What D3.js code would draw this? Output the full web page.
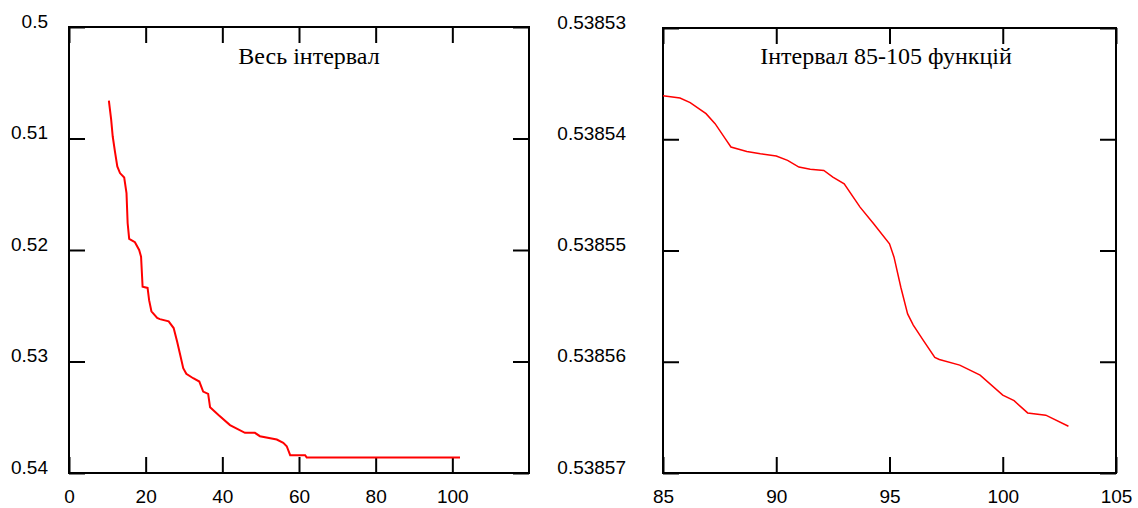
<!DOCTYPE html>
<html>
<head>
<meta charset="utf-8">
<script src="https://cdn.jsdelivr.net/npm/d3@7"></script>
<style>
    html, body { margin: 0; padding: 0; background: #fff; }
    svg { display: block; }
    .tick text { font-family: "Liberation Sans", Arial, sans-serif; font-size: 19px; fill: #000; }
    .title { font-family: "Liberation Serif", "Times New Roman", serif; font-size: 24px; fill: #000; }
</style>
</head>
<body>
<div id="chart"></div>
<script>
(function () {
    "use strict";

    // left panel: whole interval
    const leftX = [10.4, 11.0, 11.4, 12.0, 12.6, 13.3, 14.4, 15.0, 15.3, 15.7, 17.2, 18.3, 18.8, 19.2,
        20.5, 20.9, 21.5, 23.0, 23.7, 26.0, 27.3, 28.2, 29.0, 29.8, 30.6, 32.4, 34.0, 35.0, 36.3,
        36.8, 39.0, 42.0, 45.9, 48.5, 49.8, 54.2, 55.9, 56.8, 57.7, 61.6, 62.0, 102];
    const leftY = [0.5066, 0.5083, 0.5098, 0.5112, 0.5125, 0.5131, 0.5135, 0.5149, 0.5176, 0.5190,
        0.5193, 0.5200, 0.5206, 0.5233, 0.5234, 0.5245, 0.5255, 0.5261, 0.5262, 0.5264, 0.5270,
        0.5282, 0.5294, 0.5306, 0.5311, 0.5315, 0.5318, 0.5327, 0.5329, 0.5341, 0.5348, 0.5357,
        0.5364, 0.5364, 0.5367, 0.5370, 0.5373, 0.5376, 0.5384, 0.5384, 0.5386, 0.5386];
    const leftXTicks = [0, 20, 40, 60, 80, 100];
    const leftYTicks = [0.5, 0.51, 0.52, 0.53, 0.54];
    const leftTitle = "Весь інтервал";

    // right panel: interval 85-105
    const rightX = [85.0, 85.75, 86.2, 86.9, 87.3, 87.8, 88.0, 88.7, 89.3, 90.0, 90.5, 91.0, 91.5,
        92.1, 92.5, 93.0, 93.7, 94.3, 95.0, 95.2, 95.5, 95.8, 96.05, 96.5, 97.0, 97.2, 98.1, 99.0,
        100.0, 100.5, 101.1, 101.9, 102.9];
    const rightY = [0.5385361, 0.5385363, 0.5385367, 0.5385377, 0.5385386, 0.5385401, 0.5385407,
        0.5385411, 0.5385413, 0.5385415, 0.5385419, 0.5385425, 0.5385427, 0.5385428, 0.5385434,
        0.5385440, 0.5385461, 0.5385476, 0.5385494, 0.5385506, 0.5385533, 0.5385557, 0.5385567,
        0.5385581, 0.5385596, 0.5385598, 0.5385603, 0.5385612, 0.5385630, 0.5385635, 0.5385646,
        0.5385648, 0.5385658];
    const rightXTicks = [85, 90, 95, 100, 105];
    const rightYTicks = [0.53853, 0.53854, 0.53855, 0.53856, 0.53857];
    const rightTitle = "Інтервал 85-105 функцій";

    const width = 1138, height = 508;
    const TICK = 16;

    let svg = d3.select("#chart").append("svg")
        .attr("width", width).attr("height", height);

    let drawPanel = (p) => {
        let x = d3.scaleLinear().domain(p.xDomain).range([p.left, p.right]);
        let y = d3.scaleLinear().domain(p.yDomain).range([p.top, p.bottom]);
        let g = svg.append("g");

        // bottom axis with labels
        let bottom = g.append("g")
            .attr("transform", `translate(0,${p.bottom})`)
            .call(d3.axisBottom(x).tickValues(p.xTicks).tickSizeInner(-TICK).tickSizeOuter(0)
                .tickFormat(d3.format("")));
        bottom.selectAll(".tick text").attr("y", 30).attr("dy", 0);

        // top axis, ticks only
        g.append("g")
            .attr("transform", `translate(0,${p.top})`)
            .call(d3.axisTop(x).tickValues(p.xTicks).tickSizeInner(-TICK).tickSizeOuter(0)
                .tickFormat(""));

        // left axis with labels
        let leftAxis = g.append("g")
            .attr("transform", `translate(${p.left},0)`)
            .call(d3.axisLeft(y).tickValues(p.yTicks).tickSizeInner(-TICK).tickSizeOuter(0)
                .tickPadding(p.labelPad).tickFormat(d => String(d)));
        leftAxis.selectAll(".tick text").attr("dy", 0);

        // right axis, ticks only
        g.append("g")
            .attr("transform", `translate(${p.right},0)`)
            .call(d3.axisRight(y).tickValues(p.yTicks).tickSizeInner(-TICK).tickSizeOuter(0)
                .tickFormat(""));

        g.selectAll(".domain").remove();
        g.selectAll(".tick line").attr("stroke", "#000").attr("stroke-width", 2);

        // frame
        g.append("rect")
            .attr("x", p.left).attr("y", p.top)
            .attr("width", p.right - p.left).attr("height", p.bottom - p.top)
            .attr("fill", "none").attr("stroke", "#000").attr("stroke-width", 2);

        let line = d3.line()
            .x(d => x(d[0]))
            .y(d => y(d[1]));

        g.append("path")
            .datum(d3.zip(p.xs, p.ys))
            .attr("d", line)
            .attr("fill", "none")
            .attr("stroke", "#ff0000")
            .attr("stroke-width", p.lineWidth);

        g.append("text")
            .attr("class", "title")
            .attr("x", p.titleX)
            .attr("y", 64)
            .attr("text-anchor", "middle")
            .text(p.title);
    };

    drawPanel({
        left: 69, right: 529, top: 27, bottom: 473,
        xDomain: [0, 120], yDomain: [0.5, 0.54],
        xTicks: leftXTicks, yTicks: leftYTicks,
        xs: leftX, ys: leftY, labelPad: 21, lineWidth: 2,
        title: leftTitle, titleX: 309
    });

    drawPanel({
        left: 663, right: 1116, top: 28, bottom: 473,
        xDomain: [85, 105], yDomain: [0.53853, 0.53857],
        xTicks: rightXTicks, yTicks: rightYTicks,
        xs: rightX, ys: rightY, labelPad: 37, lineWidth: 1.5,
        title: rightTitle, titleX: 886
    });
})();
</script>
</body>
</html>
